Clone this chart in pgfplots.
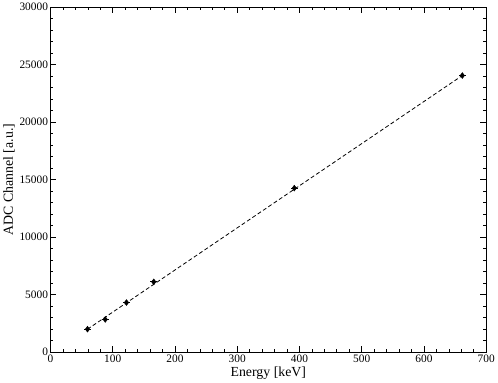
\documentclass[border=0pt]{standalone}
\usepackage{fontspec}
\setmainfont{Liberation Serif}
\usepackage{pgfplots}
\pgfplotsset{compat=1.18}

\begin{document}
\begin{tikzpicture}[x=1pt,y=1pt]
\begin{axis}[
    scale only axis,
    width=441pt,
    height=349pt,
    xmin=0, xmax=700,
    ymin=0, ymax=30000,
    xtick={0,100,...,700},
    ytick={0,5000,...,30000},
    minor x tick num=4,
    minor y tick num=4,
    tick align=inside,
    major tick length=6pt,
    minor tick length=3pt,
    scaled y ticks=false,
    /pgf/number format/assume math mode=true,
    /pgf/number format/set thousands separator={},
    tick label style={font=\fontsize{11.5}{12}\selectfont},
    xticklabel style={yshift=1pt},
    yticklabel style={xshift=1pt},
    label style={font=\fontsize{14}{15}\selectfont},
    xlabel={Energy [keV]},
    ylabel={ADC Channel [a.u.]},
    xlabel style={yshift=2pt},
    ylabel style={yshift=-2pt},
    axis line style={line width=0.8pt},
    every tick/.style={black, line width=0.6pt},
]
% linear fit
\addplot[black, line width=0.8pt, dash pattern=on 4pt off 2.5pt] coordinates {
    (59.5, 1980)
    (661.7, 24050)
};
% calibration points
\addplot[only marks, mark=diamond*, mark size=3pt, black,
    error bars/.cd, x dir=both, x explicit, y dir=both, y explicit,
    error bar style={line width=0.9pt}, error mark=none]
    coordinates {
    (59.5, 1980) +- (6, 150)
    (88.0, 2830) +- (6, 150)
    (122.1, 4300) +- (6, 150)
    (165.9, 6100) +- (6, 150)
    (391.7, 14250) +- (6, 150)
    (661.7, 24050) +- (6, 150)
};
\end{axis}
\end{tikzpicture}
\end{document}
